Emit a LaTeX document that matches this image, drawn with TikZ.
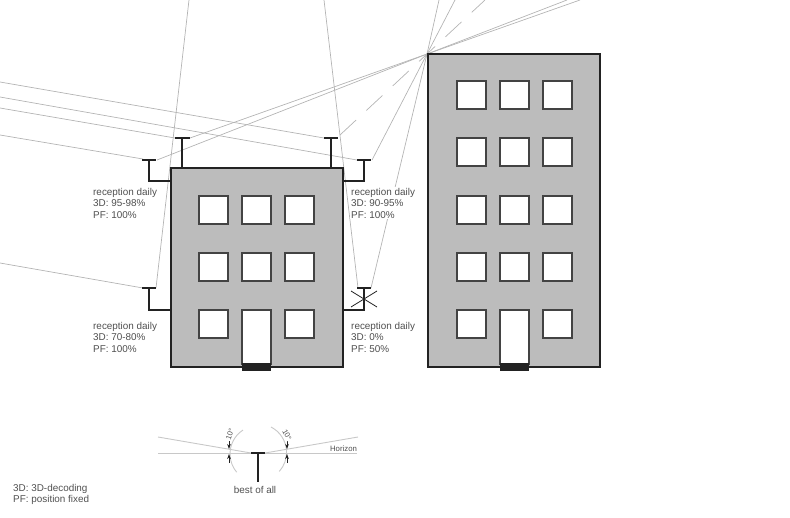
\documentclass[tikz,border=0pt]{standalone}
\usepackage{fontspec}
\setmainfont{Liberation Sans}
\usetikzlibrary{arrows.meta, calc}
\definecolor{RayGrey}{HTML}{B4B4B4}
\definecolor{LowGrey}{HTML}{C8C8C8}
\definecolor{WallGrey}{HTML}{BCBCBC}
\definecolor{InkDark}{HTML}{222222}
\definecolor{TxtGrey}{HTML}{505050}

\begin{document}
\begin{tikzpicture}[
      x=1pt, y=-1pt,
      ray/.style={draw=RayGrey, line width=0.7pt},
      raydash/.style={ray, dash pattern=on 22pt off 14pt},
      lowray/.style={draw=LowGrey, line width=0.9pt},
      wall/.style={draw=InkDark, fill=WallGrey, line width=2.1pt},
      pane/.style={draw=InkDark!85, fill=white, line width=1.1pt},
      mast/.style={draw=InkDark, line width=1.6pt},
      dish/.style={draw=InkDark, line width=2.6pt},
      info/.style={font=\fontsize{9.9}{11.4}\selectfont, text=TxtGrey, align=left,
                   fill=white, inner sep=1pt, anchor=north west},
      angletxt/.style={font=\fontsize{7.5}{8}\selectfont, text=TxtGrey, fill=white, inner sep=0pt},
      tick/.style={-{Stealth[length=5pt,width=3.6pt]}, draw=InkDark, line width=0.6pt}
    ]
    \useasboundingbox (0,0) rectangle (790,517);

    \coordinate (focus) at (427,54);

    % rays from the left
    \draw[ray] (0,135) -- (143,159);
    \draw[ray] (0,108) -- (175,138);
    \draw[ray] (0,97)  -- (357,160);
    \draw[ray] (0,82)  -- (324,138);
    \draw[ray] (0,263) -- (143,288);
    % steep rays
    \draw[ray] (189,0) -- (156,288);
    \draw[ray] (324,0) -- (358,288);
    % rays through the corner
    \draw[ray] (157,160) -- (focus) -- (567,0);
    \draw[ray] (190,138) -- (focus) -- (580,0);
    \draw[raydash] (340,135) -- (focus) -- (485,0);
    \draw[ray] (372,160) -- (focus) -- (455,0);
    \draw[ray] (371,288) -- (focus) -- (439,0);

    % low building
    \draw[wall] (171,168) rectangle (343,367);
    \foreach \wx in {199,242,285}
      \foreach \wy in {196,253}
        \draw[pane] (\wx,\wy) rectangle ++(29,28);
    \draw[pane] (199,310) rectangle ++(29,28);
    \draw[pane] (285,310) rectangle ++(29,28);
    \draw[pane] (242,310) rectangle (271,364);
    \fill[InkDark] (242,363) rectangle (271,371);

    % tall building
    \draw[wall] (428,54) rectangle (600,367);
    \foreach \wx in {457,500,543}
      \foreach \wy in {81,138,196,253}
        \draw[pane] (\wx,\wy) rectangle ++(29,28);
    \draw[pane] (457,310) rectangle ++(29,28);
    \draw[pane] (543,310) rectangle ++(29,28);
    \draw[pane] (500,310) rectangle (529,364);
    \fill[InkDark] (500,363) rectangle (529,371);

    % antennas
    \draw[mast] (171,181) -| (149,160);
    \draw[dish] (142,160) -- (156,160);
    \draw[mast] (182,168) -- (182,138);
    \draw[dish] (175,138) -- (190,138);
    \draw[mast] (331,168) -- (331,138);
    \draw[dish] (324,138) -- (338,138);
    \draw[mast] (343,181) -| (364,160);
    \draw[dish] (357,160) -- (371,160);
    \draw[mast] (171,310) -| (149,288);
    \draw[dish] (142,288) -- (156,288);
    \draw[mast] (343,310) -| (364,288);
    \draw[dish] (357,288) -- (371,288);
    \draw[draw=InkDark, line width=0.8pt] (351,291) -- (377,307) (351,307) -- (377,291);

    \node[info] (recA) at (92,187) {reception daily\\3D: 95-98\%\\PF: 100\%};
    \node[info] (recB) at (350,187) {reception daily\\3D: 90-95\%\\PF: 100\%};
    \node[info] (recC) at (92,321) {reception daily\\3D: 70-80\%\\PF: 100\%};
    \node[info] (recD) at (350,321) {reception daily\\3D: 0\%\\PF: 50\%};

    % best of all
    \coordinate (lowL) at (251,453);
    \coordinate (lowR) at (265,453);
    \draw[lowray] (158,453) -- (357,453);
    \draw[lowray] (158,437) -- (lowL);
    \draw[lowray] (lowR) -- (358,437);
    \draw[lowray] (243,430) arc[start angle=123, end angle=220, radius=28.5pt];
    \draw[lowray] (271,427) arc[start angle=63, end angle=-42, radius=28.5pt];
    \draw[mast, line width=1.9pt] (258,453) -- (258,482);
    \draw[dish] (lowL) -- (lowR);
    \draw[tick] (229,441) -- (229,449);
    \draw[tick] (229,463) -- (229,454);
    \draw[tick] (287,441) -- (287,449);
    \draw[tick] (287,463) -- (287,454);
    \node[angletxt, rotate=72] (angL) at (230,434) {10°};
    \node[angletxt, rotate=-62] (angR) at (287,435) {10°};
    \node[font=\fontsize{7.8}{8}\selectfont, text=TxtGrey, fill=white, inner sep=0.5pt] (horizon) at (343.5,449) {Horizon};
    \node[font=\fontsize{9.9}{11}\selectfont, text=TxtGrey] (best) at (255,490) {best of all};

    \node[info, fill=none] (legend) at (12,483) {3D: 3D-decoding\\PF: position fixed};

  \end{tikzpicture}
\end{document}
